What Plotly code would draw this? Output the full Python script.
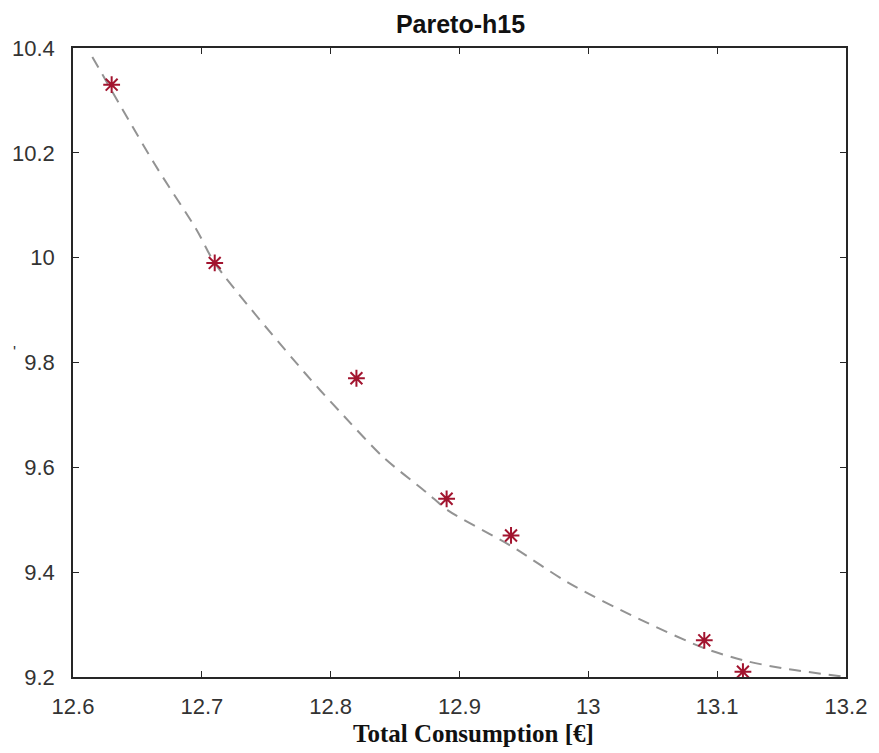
import plotly.graph_objects as go

# Pareto points
cost_x = [12.63, 12.71, 12.82, 12.89, 12.94, 13.09, 13.12]
comfort_y = [10.33, 9.99, 9.77, 9.54, 9.47, 9.27, 9.21]

# Dashed trend curve samples
curve_x = [12.615, 12.663, 12.696, 12.71, 12.78, 12.811, 12.841, 12.875, 12.891,
           12.94, 12.985, 13.04, 13.09, 13.12, 13.15, 13.2]
curve_y = [10.383, 10.18, 10.053, 9.99, 9.78, 9.696, 9.619, 9.551, 9.518,
           9.45, 9.379, 9.31, 9.255, 9.232, 9.217, 9.2]

x_ticks = [12.6, 12.7, 12.8, 12.9, 13.0, 13.1, 13.2]
x_tick_text = ["12.6", "12.7", "12.8", "12.9", "13", "13.1", "13.2"]
y_ticks = [9.2, 9.4, 9.6, 9.8, 10.0, 10.2, 10.4]
y_tick_text = ["9.2", "9.4", "9.6", "9.8", "10", "10.2", "10.4"]

W, H = 879, 753
L, R, T, B = 67, 25, 48, 76

fig = go.Figure()
fig.add_trace(go.Scatter(
    x=curve_x, y=curve_y, mode="lines",
    line=dict(color="#939393", width=2, dash="12px,8px", shape="spline", smoothing=0.8),
    showlegend=False, hoverinfo="skip"))
fig.add_trace(go.Scatter(
    x=cost_x, y=comfort_y, mode="markers",
    marker=dict(symbol="asterisk-open", size=14, color="#A2142F",
                line=dict(color="#A2142F", width=2)),
    showlegend=False))

axis_common = dict(
    showgrid=False, zeroline=False, showline=True, linecolor="#262626", linewidth=1.5,
    mirror="ticks", ticks="inside", ticklen=6, tickwidth=1.2, tickcolor="#262626",
    tickfont=dict(family="Liberation Sans, Arial, sans-serif", size=22, color="#333333"),
)

fig.update_layout(
    width=W, height=H,
    margin=dict(l=L, r=R, t=T, b=B),
    paper_bgcolor="white", plot_bgcolor="white",
    title=dict(text="<b>Pareto-h15</b>", x=(L + (W - L - R) / 2) / W, xanchor="center",
               y=1 - 24 / H, yanchor="middle",
               font=dict(family="Liberation Sans, Arial, sans-serif", size=25, color="#111111")),
    xaxis=dict(range=[12.6, 13.2], tickvals=x_ticks, ticktext=x_tick_text,
               ticklabelstandoff=9, **axis_common),
    yaxis=dict(range=[9.2, 10.4], tickvals=y_ticks, ticktext=y_tick_text,
               ticklabelstandoff=12, **axis_common),
    annotations=[
        dict(text="<b>Total Consumption [€]</b>", xref="paper", yref="paper",
             x=(475 - L) / (W - L - R), y=(H - B - 733) / (H - T - B),
             xanchor="center", yanchor="middle", showarrow=False,
             font=dict(family="Liberation Serif, Times New Roman, serif", size=25, color="#111111")),
        dict(text="'", xref="paper", yref="paper",
             x=(7 - L) / (W - L - R), y=(H - B - 352) / (H - T - B),
             xanchor="center", yanchor="middle", showarrow=False,
             font=dict(family="Liberation Sans, Arial, sans-serif", size=16, color="#333333")),
    ],
)

fig.write_html("out.html")
